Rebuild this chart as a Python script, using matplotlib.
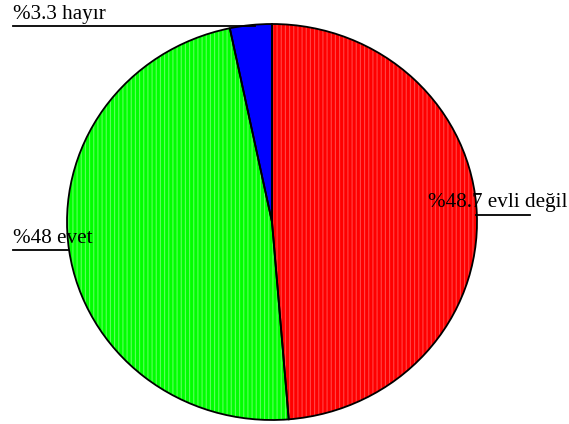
import matplotlib.pyplot as plt

# pie data
labels = ["%48.7 evli değil", "%48 evet", "%3.3 hayır"]
values = [48.7, 48.0, 3.3]
colors = ["#ff0000", "#00ff00", "#0000ff"]
stripes = ["#ff4646", "#5cff5c", "#0000ff"]

plt.rcParams["font.family"] = ["Liberation Serif", "DejaVu Serif"]
plt.rcParams["hatch.linewidth"] = 0.8

W, H = 569, 424
fig = plt.figure(figsize=(W / 100, H / 100), dpi=100)
# pie spans x 67..477, y 24..420 (pixels from top)
ax = fig.add_axes([67 / W, (H - 420) / H, 410 / W, 396 / H])

# filled wedges with a light vertical stripe texture
wedges, _ = ax.pie(values, colors=colors, startangle=90, counterclock=False,
                   radius=1, wedgeprops=dict(linewidth=0))
for w, c in zip(wedges, stripes):
    if c != colors[wedges.index(w)]:
        w.set_hatch("||||")
        w.set_edgecolor(c)

# black outlines on top
outline, _ = ax.pie(values, startangle=90, counterclock=False, radius=1,
                    wedgeprops=dict(fill=False, edgecolor="black", linewidth=1.3))

ax.set_aspect("auto")
ax.set_xlim(-1, 1)
ax.set_ylim(-1, 1)
ax.axis("off")


def px(x, y):
    return x / W, 1 - y / H


# labels with their underline leaders (pixel positions)
label_pos = {
    "%3.3 hayır": ((13, 19), (13, 255, 26)),
    "%48 evet": ((13, 243), (13, 68, 250)),
    "%48.7 evli değil": ((428, 207), (476, 530, 215)),
}
for lab in labels:
    (tx, ty), (x0, x1, ly) = label_pos[lab]
    fig.text(*px(tx, ty), lab, fontsize=15.2, ha="left", va="baseline")
    a, b = px(x0, ly), px(x1, ly)
    fig.add_artist(plt.Line2D([a[0], b[0]], [a[1], b[1]], color="black",
                              linewidth=1.3, transform=fig.transFigure))

fig.savefig("out.png", dpi=100)
